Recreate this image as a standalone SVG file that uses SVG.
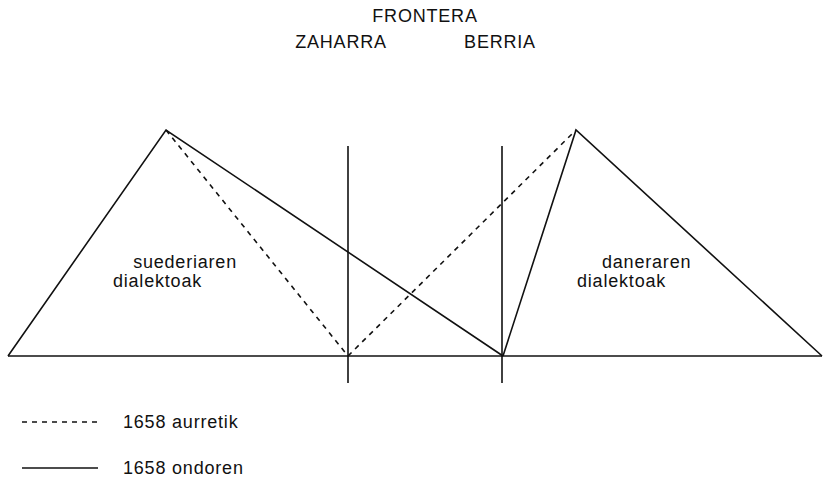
<svg xmlns="http://www.w3.org/2000/svg" width="823" height="478" viewBox="0 0 823 478">
<style>
text{font-family:"Liberation Sans",Arial,sans-serif;font-size:18px;fill:#111;letter-spacing:0.8px}
.s{stroke:#111;stroke-width:1.6;fill:none}
.d{stroke:#111;stroke-width:1.6;fill:none;stroke-dasharray:5 5}
</style>
<rect width="823" height="478" fill="#fff"/>
<g id="headers">
<text x="425" y="22" text-anchor="middle">FRONTERA</text>
<text x="341" y="48" text-anchor="middle">ZAHARRA</text>
<text x="500" y="48" text-anchor="middle">BERRIA</text>
</g>
<g id="connectors">
<line class="s" x1="8" y1="356" x2="822" y2="356"/>
<line class="s" x1="348" y1="146" x2="348" y2="383"/>
<line class="s" x1="502" y1="146" x2="502" y2="383"/>
<polyline class="s" points="8,356 166,130 503,356"/>
<line class="d" x1="166" y1="130" x2="348" y2="356"/>
<line class="d" x1="348" y1="356" x2="576" y2="130"/>
<polyline class="s" points="503,356 576,130 822,356"/>
</g>
<g id="left-label">
<text x="237" y="268" text-anchor="end">suederiaren</text>
<text x="202" y="287" text-anchor="end">dialektoak</text>
</g>
<g id="right-label">
<text x="602" y="268">daneraren</text>
<text x="577" y="287">dialektoak</text>
</g>
<g id="legend">
<line class="d" x1="22" y1="422" x2="98" y2="422" stroke-dasharray="6 5"/>
<text x="123" y="428">1658 aurretik</text>
<line class="s" x1="22" y1="468" x2="98" y2="468"/>
<text x="123" y="474">1658 ondoren</text>
</g>
</svg>
